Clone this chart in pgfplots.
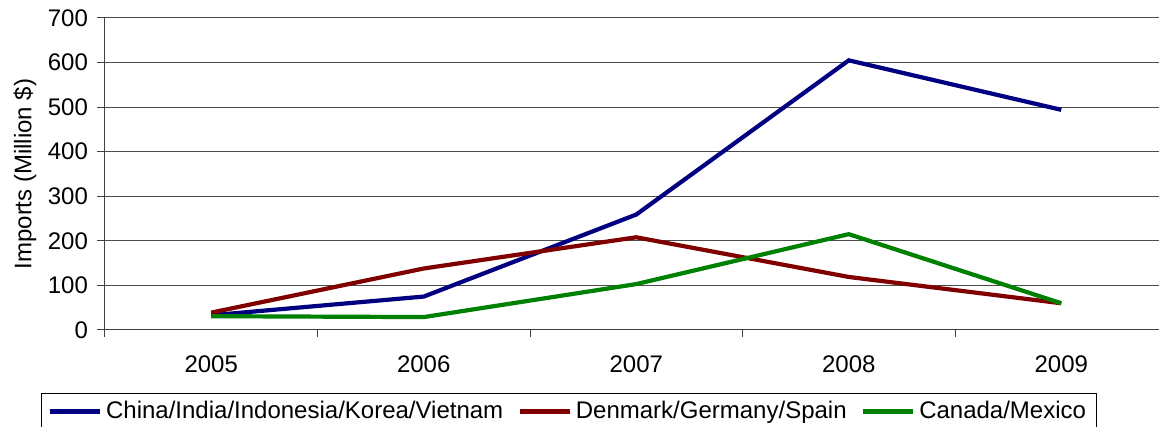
\documentclass[border=0pt]{standalone}
\usepackage{pgfplots}
\pgfplotsset{compat=1.18}
\usepackage{fontspec}
\setmainfont{Liberation Sans}
\definecolor{cblue}{RGB}{0,0,128}
\definecolor{cred}{RGB}{128,0,0}
\definecolor{cgreen}{RGB}{0,128,0}
\begin{document}
\begin{tikzpicture}
\begin{axis}[
  at={(0,0)}, anchor=south west,
  scale only axis, width=527pt, height=156pt,
  xmin=-0.5, xmax=4.46, ymin=0, ymax=700,
  axis x line*=bottom, axis y line*=left,
  axis line style={draw=black!75, line width=0.5pt, -},
  xtick={0,1,2,3,4},
  xticklabels={2005,2006,2007,2008,2009},
  minor xtick={-0.5,0.5,1.5,2.5,3.5},
  ytick={0,100,...,700},
  major x tick style={draw=none},
  minor tick length=3.5pt,
  minor x tick style={draw=black!75, line width=0.5pt},
  major tick length=4pt,
  tick align=outside,
  y tick style={draw=black!75, line width=0.5pt},
  ymajorgrids,
  major grid style={draw=black!70, line width=0.5pt},
  tick label style={font=\fontsize{12}{14}\selectfont},
  /pgf/number format/assume math mode=true,
  xticklabel style={yshift=-5.5pt},
  yticklabel style={xshift=-1pt},
  ylabel={Imports (Million \$)},
  ylabel style={font=\fontsize{12}{14}\selectfont, at={(axis description cs:-0.0759,0.5)}, anchor=center},
  clip=false,
  legend columns=3,
  legend style={at={(axis description cs:-0.0607,-0.202)}, anchor=north west,
    draw=black, line width=0.5pt, font=\fontsize{12}{14}\selectfont,
    inner xsep=3pt, inner ysep=2pt,
    /tikz/every even column/.append style={column sep=5pt}},
  legend cell align=left,
  legend image code/.code={\draw[#1, line width=2.3pt] (0pt,0pt) -- (25pt,0pt);},
]
\addplot[cblue, line width=2.1pt] coordinates {(0,33) (1,75) (2,259) (3,605) (4,494)};
\addlegendentry{China/India/Indonesia/Korea/Vietnam}
\addplot[cred, line width=2.1pt] coordinates {(0,39) (1,138) (2,208) (3,119) (4,60)};
\addlegendentry{Denmark/Germany/Spain}
\addplot[cgreen, line width=2.1pt] coordinates {(0,31) (1,29) (2,103) (3,215) (4,60)};
\addlegendentry{Canada/Mexico}
\end{axis}
\pgfresetboundingbox
\path[use as bounding box] (-52.5pt,-48.5pt) rectangle (527pt,165pt);
\end{tikzpicture}
\end{document}
